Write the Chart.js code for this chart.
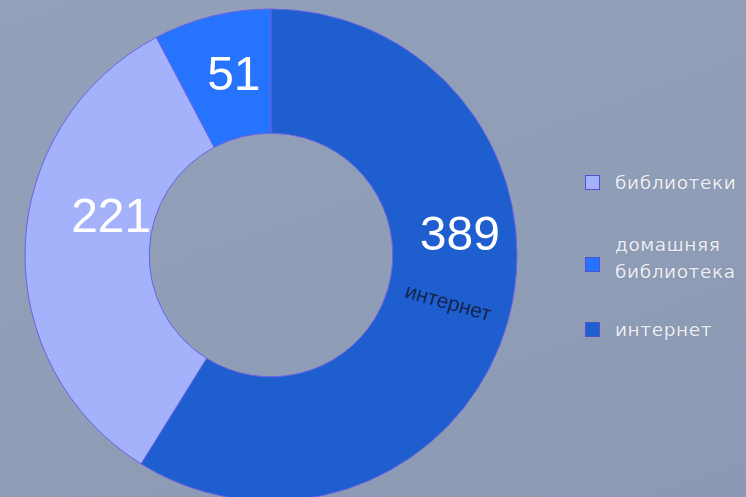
<!DOCTYPE html>
<html lang="ru">
<head>
<meta charset="utf-8">
<title>Источники</title>
<script src="https://cdn.jsdelivr.net/npm/chart.js@4"></script>
<style>
  html, body { margin: 0; padding: 0; }
  body {
    width: 746px; height: 497px; overflow: hidden; position: relative;
    background: linear-gradient(160deg, #93a0b9 0%, #909db7 55%, #8c99b4 100%);
    font-family: "DejaVu Sans", Verdana, sans-serif;
  }
  #wrap { position: absolute; left: 0; top: 0; width: 542px; height: 510px; }
  .legend { position: absolute; left: 585px; top: 0; }
  .item { position: absolute; left: 0; display: flex; align-items: center; white-space: nowrap; }
  .box { width: 13px; height: 13px; border: 1.5px solid #5450d0; margin-right: 15px; flex: none; }
  .multi .box { margin-top: 12px; }
  .txt { color: #eceef3; font-size: 18.5px; letter-spacing: 0.6px; line-height: 27px; text-shadow: 0 0 1px rgba(40,50,80,.35); }
</style>
</head>
<body>
<div id="wrap"><canvas id="donut"></canvas></div>
<div class="legend" id="legend"></div>
<script>
// Sources of books — doughnut with value labels and a side legend.
const labels = ["библиотеки", ["домашняя", "библиотека"], "интернет"];
const values = [221, 51, 389];
const colors = ["#a3b2fb", "#2673fd", "#1e5ecf"];
const showName = [false, false, true];
// per-slice nudge of the value text from the ring's mid point
const valueShift = [[24, -30], [7, 0], [12, -69]];
const legendTops = [169, 231, 316];

const total = values.reduce((s, v) => s + v, 0);
// last slice starts at 12 o'clock, so the first one starts where it ends
const rotation = (values[values.length - 1] / total) * 360;

const legendEl = document.getElementById("legend");
legendEl.innerHTML = labels
  .map((l, i) => `<div class="item${Array.isArray(l) ? " multi" : ""}" style="top:${legendTops[i]}px">
      <span class="box" style="background:${colors[i]}"></span>
      <span class="txt">${[].concat(l).join("<br>")}</span></div>`)
  .join("");

const sliceLabels = {
  id: "sliceLabels",
  afterDatasetsDraw(chart) {
    const { ctx } = chart;
    chart.getDatasetMeta(0).data.forEach((arc, i) => {
      const { x, y, startAngle, endAngle, innerRadius, outerRadius } = arc.getProps(
        ["x", "y", "startAngle", "endAngle", "innerRadius", "outerRadius"], true);
      const mid = (startAngle + endAngle) / 2;
      const r = (innerRadius + outerRadius) / 2;
      const px = x + Math.cos(mid) * r;
      const py = y + Math.sin(mid) * r;
      ctx.save();
      ctx.textAlign = "center";
      ctx.textBaseline = "middle";
      ctx.fillStyle = "#ffffff";
      ctx.font = '48px "Liberation Sans", Arial, sans-serif';
      ctx.fillText(String(values[i]), px + valueShift[i][0], py + valueShift[i][1]);
      if (showName[i]) {
        ctx.translate(px, py - 2);
        ctx.rotate(mid);
        ctx.fillStyle = "#14244a";
        ctx.font = '21px "Liberation Sans", Arial, sans-serif';
        ctx.fillText([].concat(labels[i]).join(" "), 0, 0);
      }
      ctx.restore();
    });
  },
};

new Chart(document.getElementById("donut"), {
  type: "doughnut",
  data: {
    labels: labels.map((l) => [].concat(l).join(" ")),
    datasets: [{
      data: values,
      backgroundColor: colors,
      borderColor: "#6a62e4",
      borderWidth: 1,
    }],
  },
  options: {
    responsive: true,
    maintainAspectRatio: false,
    animation: false,
    rotation,
    radius: 246,
    cutout: 126,
    layout: { padding: 0 },
    plugins: { legend: { display: false }, tooltip: { enabled: false } },
  },
  plugins: [sliceLabels],
});
</script>
</body>
</html>
